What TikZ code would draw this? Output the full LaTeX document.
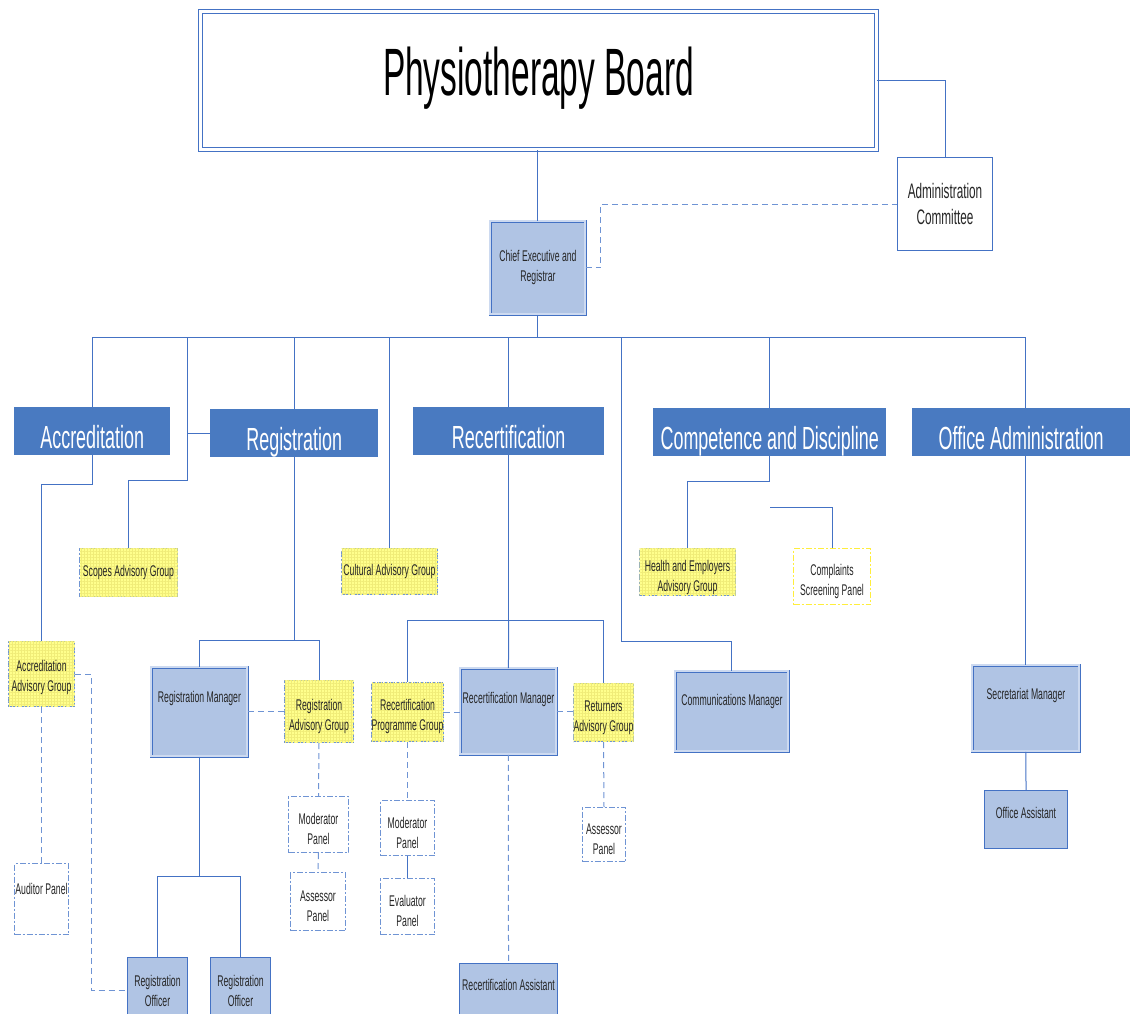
\documentclass[tikz,border=0pt]{standalone}
\usepackage{fontspec}
\setmainfont{Liberation Sans}[FakeStretch=0.56]
\newfontfamily\titlefont{Liberation Sans}[FakeStretch=0.5]
\usetikzlibrary{patterns.meta}
\definecolor{OrgLine}{RGB}{68,114,196}
\definecolor{OrgDash}{RGB}{111,148,212}
\definecolor{OrgHead}{RGB}{73,122,193}
\definecolor{OrgFill}{RGB}{176,196,228}
\definecolor{OrgGap}{RGB}{205,218,240}
\definecolor{AdvYellow}{RGB}{255,255,140}
\definecolor{AdvGrid}{RGB}{240,236,120}
\definecolor{CspYellow}{RGB}{255,238,60}
\newcommand{\padtop}[1][21pt]{\rule{0pt}{#1}}

\begin{document}
\begin{tikzpicture}[
    x=1pt, y=-1pt,
    every node/.style={font=\fontsize{15.5}{20}\selectfont, align=center, inner sep=0pt, anchor=north west, text=black!85},
    boardbox/.style={rectangle, draw=OrgLine, double=white, double distance=2.5pt, line width=1pt, fill=white},
    admbox/.style={rectangle, draw=OrgLine, fill=white, line width=1pt},
    head/.style={rectangle, fill=OrgHead, text=white, font=\fontsize{32}{36}\selectfont, text height=41pt, text depth=7pt},
    mgr/.style={rectangle, draw=OrgLine, double=OrgGap, double distance=2pt, line width=0.9pt, fill=OrgFill},
    staff/.style={rectangle, draw=OrgLine, fill=OrgFill, line width=1pt},
    adv/.style={rectangle, draw=OrgDash, line width=1pt, dash pattern=on 6pt off 2pt on 2pt off 2pt, fill=AdvYellow,
      postaction={pattern={Hatch[angle=0, distance=3pt, line width=0.35pt]}, pattern color=AdvGrid}},
    panel/.style={rectangle, draw=OrgDash, line width=1pt, dash pattern=on 6pt off 2pt on 2pt off 2pt, fill=white},
    link/.style={draw=OrgLine, line width=1pt},
    dlink/.style={draw=OrgDash, line width=1pt, dash pattern=on 6pt off 4pt}
  ]
    \useasboundingbox (0,0) rectangle (1130,1013);

    % Board and chief executive
    \node[boardbox, minimum width=676pt, minimum height=138pt, text height=84pt, text depth=54pt, text=black, font=\titlefont\fontsize{67}{70}\selectfont] (board) at (200,11) {Physiotherapy Board};
    \node[admbox, minimum width=95pt, minimum height=93pt, font=\fontsize{21}{26}\selectfont] (admin) at (897,157) {Administration\\Committee};
    \node[mgr, minimum width=95pt, minimum height=93pt] (chief) at (490,221) {Chief Executive and\\Registrar};

    % Sections
    \node[head, minimum width=156pt] (acc) at (14,407) {Accreditation};
    \node[head, minimum width=168pt] (reg) at (210,409) {Registration};
    \node[head, minimum width=191pt] (recert) at (413,407) {Recertification};
    \node[head, minimum width=233pt] (comp) at (653,408) {Competence and Discipline};
    \node[head, minimum width=218pt] (office) at (912,408) {Office Administration};

    % Advisory groups
    \node[adv, minimum width=98pt, minimum height=48pt] (scopes) at (79,548) {Scopes Advisory Group};
    \node[adv, minimum width=96pt, minimum height=46pt] (cultural) at (341,548) {Cultural Advisory Group};
    \node[adv, minimum width=96pt, minimum height=47pt] (health) at (639,548) {\padtop[23pt]Health and Employers\\Advisory Group};
    \node[panel, draw=CspYellow, minimum width=77pt, minimum height=56pt] (complaints) at (793,548) {\padtop Complaints\\Screening Panel};
    \node[adv, minimum width=66pt, minimum height=65pt] (accadv) at (8,641) {\padtop[19pt]Accreditation\\Advisory Group};
    \node[adv, minimum width=69pt, minimum height=62pt] (regadv) at (284,680) {\padtop Registration\\Advisory Group};
    \node[adv, minimum width=72pt, minimum height=59pt] (rpg) at (371,682) {\padtop Recertification\\Programme Group};
    \node[adv, minimum width=60pt, minimum height=58pt] (returners) at (573,683) {\padtop Returners\\Advisory Group};

    % Managers
    \node[mgr, minimum width=96pt, text height=35pt, text depth=54pt] (regmgr) at (151,667) {Registration Manager};
    \node[mgr, minimum width=96pt, text height=35pt, text depth=51pt] (recmgr) at (460,668) {Recertification Manager};
    \node[mgr, minimum width=113pt, text height=34pt, text depth=46pt] (commgr) at (675,671) {Communications Manager};
    \node[mgr, minimum width=107pt, text height=34pt, text depth=52pt] (secmgr) at (972,665) {Secretariat Manager};

    % Staff
    \node[staff, minimum width=83pt, text height=28pt, text depth=30pt] (offasst) at (984,790) {Office Assistant};
    \node[staff, minimum width=60pt, minimum height=66pt] (regoff1) at (127,957) {Registration\\Officer};
    \node[staff, minimum width=60pt, minimum height=66pt] (regoff2) at (210,957) {Registration\\Officer};
    \node[staff, minimum width=98pt, text height=27pt, text depth=45pt] (recasst) at (459,963) {Recertification Assistant};

    % Panels
    \node[panel, minimum width=54pt, text height=31pt, text depth=40pt] (auditor) at (14,863) {Auditor Panel};
    \node[panel, minimum width=60pt, minimum height=56pt] (modreg) at (288,796) {\padtop Moderator\\Panel};
    \node[panel, minimum width=55pt, minimum height=58pt] (assreg) at (290,872) {\padtop Assessor\\Panel};
    \node[panel, minimum width=54pt, minimum height=55pt] (modrec) at (380,800) {\padtop Moderator\\Panel};
    \node[panel, minimum width=54pt, minimum height=56pt] (evalp) at (380,878) {\padtop Evaluator\\Panel};
    \node[panel, minimum width=43pt, minimum height=54pt] (assret) at (582,807) {\padtop Assessor\\Panel};

    % Bus and taps
    \coordinate (busL) at (92,337);
    \coordinate (busR) at (1025,337);
    \coordinate (tapScope) at (187,337);
    \coordinate (tapComm) at (621,337);
    \coordinate (cspJ) at (770,507);

    % Connections
    \draw[link] (board.south -| chief.north) -- (chief.north);
    \draw[link] (board.east) -| (admin.north);
    \draw[dlink] (chief.east) -- ++(15,0) |- (admin.west);
    \draw[link] (chief.south) -- (chief.south |- busL);
    \draw[link] (busL) -- (busR);
    \draw[link] (acc.north) -- (acc.north |- busL);
    \draw[link] (reg.north) -- (reg.north |- busL);
    \draw[link] (cultural.north) -- (cultural.north |- busL);
    \draw[link] (recert.north) -- (recert.north |- busL);
    \draw[link] (comp.north) -- (comp.north |- busL);
    \draw[link] (busR) -- (office.north -| busR);
    \draw[link] (tapScope) -- ++(0,143) -| (scopes.north);
    \draw[link] (reg.west) -- (reg.west -| tapScope);
    \draw[link] (tapComm) -- ++(0,304) -| (commgr.north);

    \draw[link] (acc.south) -- ++(0,29) -| (accadv.north);
    \draw[link] (reg.south) -- ++(0,183) coordinate (regJ) -| (regmgr.north);
    \draw[link] (regJ) -| (regadv.north);
    \draw[link] (recert.south) -- ++(0,165) coordinate (recJ) -| (rpg.north);
    \draw[link] (recJ) -| (returners.north);
    \draw[link] (recJ) -- (recmgr.north);
    \draw[link] (comp.south) -- ++(0,25) -| (health.north);
    \draw[link] (cspJ) -| (complaints.north);
    \draw[link] (office.south -| secmgr.north) -- (secmgr.north);
    \draw[link] (secmgr.south) -- (offasst.north);
    \draw[link] (regmgr.south) -- ++(0,120) coordinate (offJ) -| (regoff1.north);
    \draw[link] (offJ) -| (regoff2.north);
    \draw[link] (modrec.south) -- (evalp.north);

    \draw[dlink] (regmgr.east) -- (regmgr.east -| regadv.west);
    \draw[dlink] (rpg.east) -- (rpg.east -| recmgr.west);
    \draw[dlink] (recmgr.east) -- (recmgr.east -| returners.west);
    \draw[dlink] (regadv.south) -- (modreg.north);
    \draw[dlink] (modreg.south) -- (assreg.north);
    \draw[dlink] (rpg.south) -- (modrec.north);
    \draw[dlink] (recmgr.south) -- (recasst.north);
    \draw[dlink] (returners.south) -- (assret.north);
    \draw[dlink] (accadv.south) -- (auditor.north);
    \draw[dlink] (accadv.east) -- ++(16,0) |- (regoff1.west);
  \end{tikzpicture}
\end{document}
